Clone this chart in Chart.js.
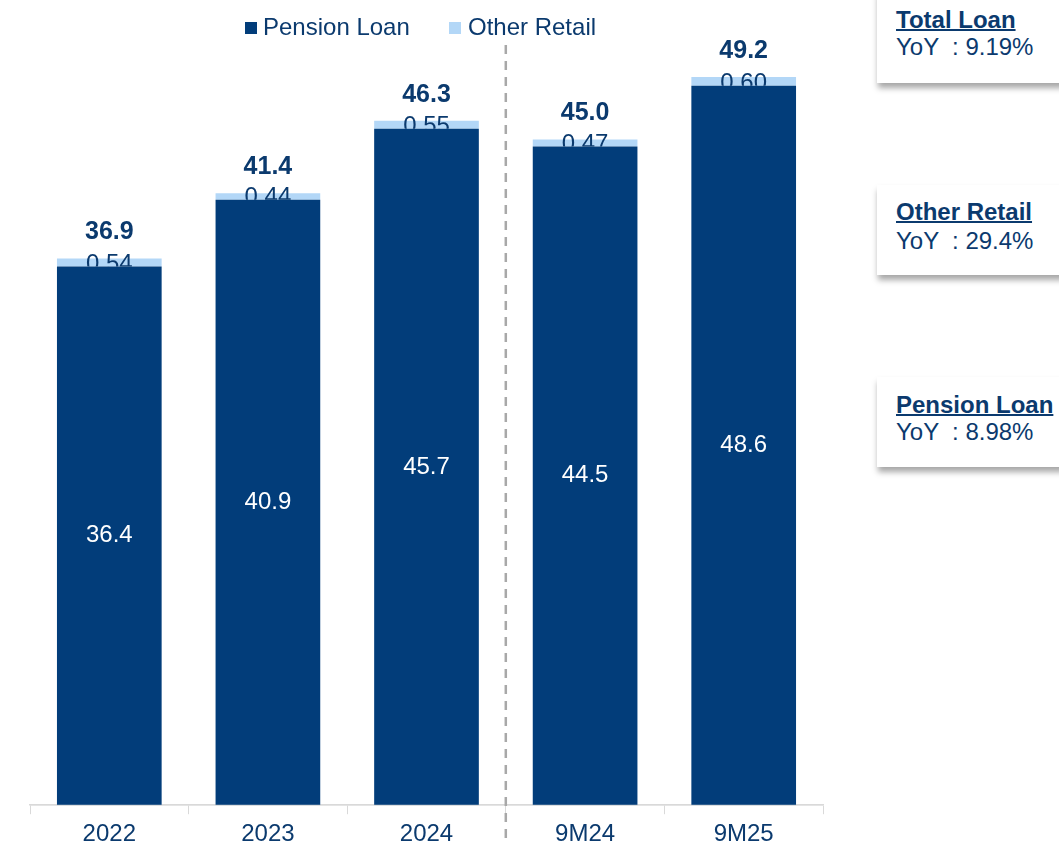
<!DOCTYPE html>
<html>
<head>
<meta charset="utf-8">
<script src="https://cdn.jsdelivr.net/npm/chart.js@4"></script>
<style>
    body { margin: 0; background: #fff; font-family: 'Liberation Sans', Arial, sans-serif; overflow: hidden; }
    #wrap { position: absolute; left: 0; top: 0; width: 860px; height: 855px; }
    .legend { position: absolute; top: 13px; color: #0b3a6e; font-size: 24px; line-height: 28px; white-space: nowrap; }
    .legend i { position: absolute; top: 9px; width: 12px; height: 12px; }
    .box {
        position: absolute; left: 877px; width: 200px; background: #fff;
        box-shadow: 1px 5px 6px rgba(0,0,0,0.35);
        color: #0b3a6e; font-size: 24px; line-height: 27px; padding-left: 19px; box-sizing: border-box;
    }
    .box b { text-decoration: underline; text-decoration-thickness: 2px; font-weight: bold; }
</style>
</head>
<body>
<div id="wrap"><canvas id="chart"></canvas></div>
<div class="legend" style="left:263px;"><i style="left:-18px;background:#023d7a;"></i>Pension Loan</div>
<div class="legend" style="left:468px;"><i style="left:-19px;background:#b3d7f7;"></i>Other Retail</div>
<div class="box" style="top:-10px;height:93px;padding-top:16px;"><b>Total Loan</b><br>YoY &nbsp;: 9.19%</div>
<div class="box" style="top:185px;height:90px;padding-top:12px;line-height:29px;"><b>Other Retail</b><br>YoY &nbsp;: 29.4%</div>
<div class="box" style="top:377px;height:90px;padding-top:14px;"><b>Pension Loan</b><br>YoY &nbsp;: 8.98%</div>
<script>
const categories = ['2022', '2023', '2024', '9M24', '9M25'];
const pensionLoan = [36.4, 40.9, 45.7, 44.5, 48.6];
const otherRetail = [0.54, 0.44, 0.55, 0.47, 0.60];
const totalLabels = ['36.9', '41.4', '46.3', '45.0', '49.2'];
const otherLabels = ['0.54', '0.44', '0.55', '0.47', '0.60'];
const separatorAfter = 2; // dashed line between 2024 and 9M24

const NAVY = '#023d7a';
const LIGHT = '#b3d7f7';
const TEXT = '#0b3a6e';
const FONT = '"Liberation Sans", Arial';

const labelPlugin = {
    id: 'barLabels',
    afterDatasetsDraw(chart) {
        const ctx = chart.ctx;
        const pMeta = chart.getDatasetMeta(0);
        const oMeta = chart.getDatasetMeta(1);
        ctx.save();
        ctx.textAlign = 'center';
        ctx.textBaseline = 'middle';
        pMeta.data.forEach((bar, i) => {
            // value inside the pension bar
            ctx.fillStyle = '#ffffff';
            ctx.font = '24px ' + FONT;
            ctx.fillText(pensionLoan[i].toFixed(1), bar.x, (bar.y + bar.base) / 2);

            // other retail value, bottom half hidden behind the pension bar
            ctx.save();
            ctx.beginPath();
            ctx.rect(bar.x - 80, 0, 160, bar.y);
            ctx.clip();
            ctx.fillStyle = TEXT;
            ctx.fillText(otherLabels[i], bar.x, bar.y - 2);
            ctx.restore();

            // total above the stack
            const top = oMeta.data[i].y;
            ctx.fillStyle = TEXT;
            ctx.font = 'bold 25px ' + FONT;
            ctx.fillText(totalLabels[i], bar.x, top - 26);
        });

        // axis line shows faintly over the bar bottoms
        ctx.beginPath();
        ctx.strokeStyle = 'rgba(217,217,217,0.45)';
        ctx.lineWidth = 1.5;
        ctx.moveTo(chart.chartArea.left, chart.chartArea.bottom);
        ctx.lineTo(chart.chartArea.right, chart.chartArea.bottom);
        ctx.stroke();

        // dashed separator
        const x0 = pMeta.data[separatorAfter].x;
        const x1 = pMeta.data[separatorAfter + 1].x;
        const xs = (x0 + x1) / 2;
        ctx.beginPath();
        ctx.setLineDash([9, 7]);
        ctx.strokeStyle = '#a8a8a8';
        ctx.lineWidth = 2.5;
        ctx.moveTo(xs, 45);
        ctx.lineTo(xs, chart.height);
        ctx.stroke();
        ctx.restore();
    }
};

new Chart(document.getElementById('chart'), {
    type: 'bar',
    data: {
        labels: categories,
        datasets: [
            { label: 'Pension Loan', data: pensionLoan, backgroundColor: NAVY, barPercentage: 0.66, categoryPercentage: 1.0 },
            { label: 'Other Retail', data: otherRetail, backgroundColor: LIGHT, barPercentage: 0.66, categoryPercentage: 1.0 }
        ]
    },
    options: {
        responsive: true,
        maintainAspectRatio: false,
        animation: false,
        layout: { padding: { left: 30, right: 37, top: 0, bottom: 0 } },
        plugins: {
            legend: { display: false },
            tooltip: { enabled: false }
        },
        scales: {
            x: {
                stacked: true,
                grid: { offset: true, drawOnChartArea: false, color: '#d9d9d9', tickLength: 9 },
                border: { color: '#d9d9d9', width: 1.5 },
                ticks: { color: TEXT, padding: 6, font: { size: 24, family: FONT } }
            },
            y: {
                stacked: true,
                display: false,
                min: 0,
                max: 54.4
            }
        }
    },
    plugins: [labelPlugin]
});
</script>
</body>
</html>
